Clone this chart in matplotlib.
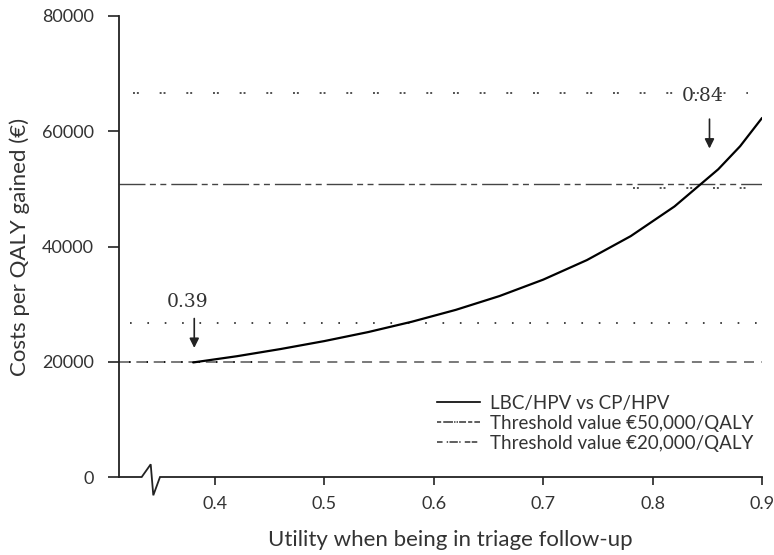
import matplotlib
matplotlib.use('Agg')
import matplotlib.pyplot as plt
from matplotlib.lines import Line2D

plt.rcParams['font.family'] = ['Lato', 'DejaVu Sans']
plt.rcParams['lines.scale_dashes'] = False

# utility vs cost per QALY
utility = [0.38, 0.42, 0.46, 0.50, 0.54, 0.58, 0.62, 0.66, 0.70, 0.74, 0.78, 0.82, 0.86, 0.88, 0.90]
icer    = [19880, 20960, 22210, 23590, 25150, 26950, 29000, 31400, 34250, 37650, 41800,
           46950, 53400, 57400, 62300]

# horizontal reference lines: level, x start, x end
ref_levels = [66700, 50900, 50200, 26700, 20000, 20000]
ref_x0     = [0.325, 0.3122, 0.782, 0.322, 0.3122, 0.321]
ref_x1     = [0.887, 0.900, 0.885, 0.900, 0.900, 0.447]

annot_text = ['0.39', '0.84']
annot_x    = [0.381, 0.852]
annot_tip  = [22400, 57000]
annot_base = [27500, 62100]
annot_lbl  = [30400, 66100]

legend_labels = ['LBC/HPV vs CP/HPV', 'Threshold value €50,000/QALY',
                 'Threshold value €20,000/QALY']

GREY = '#333333'

ref_styles = [
    dict(ls=(0, (1.4, 1.4, 1.4, 15.0)), lw=1.1, color='#222222'),
    dict(ls=(0, (18.7, 3.2, 4.3, 3.2, 4.3, 3.6)), lw=1.0, color='#444444'),
    dict(ls=(0, (1.4, 1.4, 1.4, 15.0)), lw=1.1, color='#222222'),
    dict(ls=(0, (1.2, 11.3)), lw=1.2, color='#222222'),
    dict(ls=(0, (7.2, 5.3)), lw=1.1, color='#555555'),
    dict(ls=(0, (1.2, 11.3)), lw=1.4, color='#111111'),
]

fig = plt.figure(figsize=(7.74, 5.55), dpi=100)
ax = fig.add_axes([119 / 774, 1 - 477 / 555, (762 - 119) / 774, (477 - 16) / 555])

for lvl, x0, x1, st in zip(ref_levels, ref_x0, ref_x1, ref_styles):
    ax.plot([x0, x1], [lvl, lvl], dash_capstyle='butt', **st)

ax.plot(utility, icer, color='black', lw=1.6, solid_capstyle='round')

for txt, x, tip, base, lbl in zip(annot_text, annot_x, annot_tip, annot_base, annot_lbl):
    ax.annotate('', xy=(x, tip), xytext=(x, base),
                arrowprops=dict(arrowstyle='-|>', color='#222222', lw=1.2,
                                mutation_scale=14, shrinkA=0, shrinkB=0))
    ax.text(x - 0.006, lbl, txt, ha='center', va='center', fontsize=13.5,
            family='DejaVu Serif', color=GREY)

ax.set_xlim(0.3122, 0.9)
ax.set_ylim(0, 80000)
ax.set_xticks([0.4, 0.5, 0.6, 0.7, 0.8, 0.9])
ax.set_xticklabels(['0.4', '0.5', '0.6', '0.7', '0.8', '0.9'])
ax.set_yticks([0, 20000, 40000, 60000, 80000])
ax.set_yticklabels(['0', '20000', '40000', '60000', '80000'])
ax.tick_params(axis='both', direction='out', labelsize=13, labelcolor=GREY,
               color='#222222', width=1.2)
ax.tick_params(axis='y', length=8, pad=10)
ax.tick_params(axis='x', length=6, pad=8)

for side in ['top', 'right', 'bottom']:
    ax.spines[side].set_visible(False)
ax.spines['left'].set_linewidth(1.3)
ax.spines['left'].set_color('#222222')

# x axis drawn by hand with a break mark near the origin
brk_x = [0.0, 22.7 / 643, 31.7 / 643, 34.3 / 643, 41 / 643, 1.0]
brk_y = [0.0, 0.0, 12.7 / 461, -18.3 / 461, 0.0, 0.0]
ax.plot(brk_x, brk_y, transform=ax.transAxes, color='#222222', lw=1.3,
        clip_on=False, solid_joinstyle='miter')

ax.set_xlabel('Utility when being in triage follow-up', fontsize=16, color=GREY)
ax.xaxis.set_label_coords(0.515, -0.115)
ax.set_ylabel('Costs per QALY gained (€)', fontsize=16, color=GREY)
ax.yaxis.set_label_coords(-0.138, 0.5)

handles = [
    Line2D([], [], color='black', lw=1.2),
    Line2D([], [], color='#333333', lw=1.1, ls=(0, (3, 1.5, 7, 0.8, 1, 0.8, 1, 0.8, 5, 1.5))),
    Line2D([], [], color='#333333', lw=1.1, ls=(0, (4, 3, 1, 1, 6, 1, 1, 3, 4, 1))),
]
ax.legend(handles, legend_labels, loc='upper left', bbox_to_anchor=(437 / 774, 1 - 395 / 555),
          bbox_transform=fig.transFigure, frameon=False, fontsize=13.5,
          handlelength=2.3, handletextpad=0.5, labelspacing=0.15,
          borderpad=0, borderaxespad=0, labelcolor=GREY)

fig.savefig('out.png', dpi=100)
